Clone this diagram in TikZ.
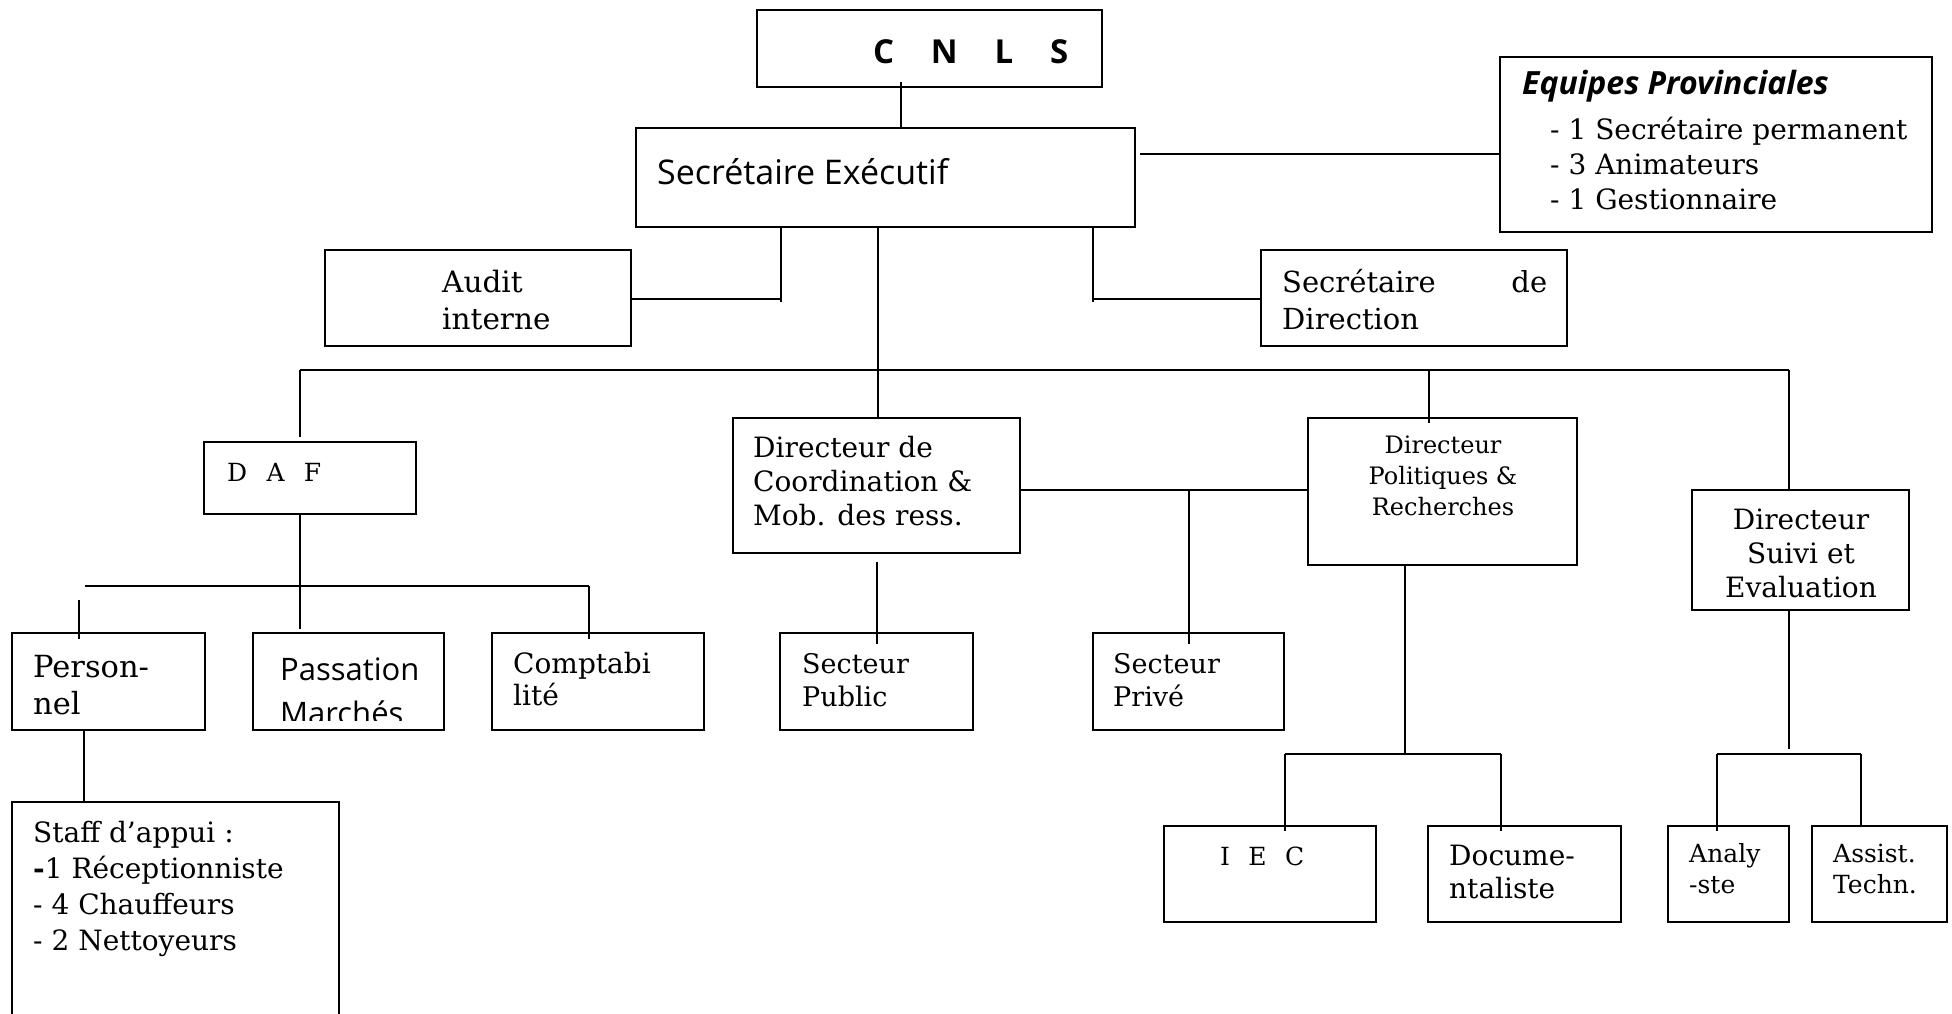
\documentclass[tikz,border=0pt]{standalone}
\usepackage{fontspec}
\setmainfont{DejaVu Serif}
\newfontfamily\comicfont{Open Sans}
\usetikzlibrary{fit}
\newcommand\mlines[1]{\begin{tabular}[t]{@{}l@{}}#1\end{tabular}}
\newcommand\mcent[1]{\begin{tabular}[t]{@{}c@{}}#1\end{tabular}}
\begin{document}
\begin{tikzpicture}[x=1pt,y=-1pt,
  box/.style={draw, line width=1.8pt, inner sep=0pt, rectangle},
  conn/.style={line width=1.8pt},
  txt/.style={inner sep=0pt, anchor=base west, font=\fontsize{28}{34}\selectfont},
  ctxt/.style={inner sep=0pt, anchor=base, font=\fontsize{28}{34}\selectfont},
  comic/.style={inner sep=0pt, anchor=base west, font=\comicfont\fontsize{31}{44}\selectfont},
]
\useasboundingbox[fill=white] (0,0) rectangle (1952,1014);

% ---------- boxes ----------
\node[box, fit={(757,10)(1102,87)}] (cnls) {};
\node[box, fit={(636,128)(1135,227)}] (se) {};
\node[box, fit={(1500,57)(1932,232)}] (equipes) {};
\node[box, fit={(325,250)(631,346)}] (audit) {};
\node[box, fit={(1261,250)(1567,346)}] (secdir) {};
\node[box, fit={(204,442)(416,514)}] (daf) {};
\node[box, fit={(733,418)(1020,553)}] (dcm) {};
\node[box, fit={(1308,418)(1577,565)}] (dpr) {};
\node[box, fit={(1692,490)(1909,610)}] (dse) {};
\node[box, fit={(12,633)(205,730)}] (pers) {};
\node[box, fit={(253,633)(444,730)}] (pass) {};
\node[box, fit={(492,633)(704,730)}] (compta) {};
\node[box, fit={(780,633)(973,730)}] (public) {};
\node[box, fit={(1093,633)(1284,730)}] (prive) {};
\node[box, fit={(1164,826)(1376,922)}] (iec) {};
\node[box, fit={(1428,826)(1621,922)}] (doc) {};
\node[box, fit={(1668,826)(1789,922)}] (analy) {};
\node[box, fit={(1812,826)(1947,922)}] (assist) {};
\node[box, fit={(12,802)(339,1040)}] (staff) {};

% ---------- texts ----------
\node[inner sep=0pt, anchor=base west, font=\comicfont\bfseries\fontsize{33}{36}\selectfont] (t-cnls) at (873,64) {\hbox to 195pt{C\hfill N\hfill L\hfill S}};
\node[comic, font=\comicfont\fontsize{34}{40}\selectfont] (t-se) at (657,185) {Secrétaire Exécutif};
\node[inner sep=0pt, anchor=base west, font=\comicfont\bfseries\itshape\fontsize{32}{36}\selectfont] (t-eq) at (1522,95) {Equipes Provinciales};
\node[txt, font=\fontsize{28}{35}\selectfont] (t-eqlist) at (1550,140) {\mlines{- 1 Secrétaire permanent\\- 3 Animateurs\\- 1 Gestionnaire}};
\node[txt, font=\fontsize{29.5}{37}\selectfont] (t-audit) at (442,292) {\mlines{Audit\\interne}};
\node[txt, font=\fontsize{29}{37}\selectfont] (t-secdir) at (1282,292) {\mlines{\hbox to 265pt{Secrétaire\hfill de}\\Direction}};
\node[txt, font=\fontsize{25}{34}\selectfont] (t-daf) at (227,481) {\hbox to 94pt{D\hfill A\hfill F}};
\node[txt] (t-dcm) at (753,457) {\mlines{Directeur de\\Coordination \&\\Mob. des ress.}};
\node[ctxt, font=\fontsize{24}{31}\selectfont] (t-dpr) at (1443,453) {\mcent{Directeur\\Politiques \&\\Recherches}};
\node[ctxt, font=\fontsize{28}{34}\selectfont] (t-dse) at (1801,529) {\mcent{Directeur\\Suivi et\\Evaluation}};
\node[txt, font=\fontsize{30.5}{37}\selectfont] (t-pers) at (33,677) {\mlines{Person-\\nel}};
\begin{scope}
  \clip (253,633) rectangle (444,720);
  \node[comic] (t-pass) at (280,680) {\mlines{Passation\\Marchés}};
\end{scope}
\node[txt, font=\fontsize{28}{32}\selectfont] (t-compta) at (513,673) {\mlines{Comptabi\\lité}};
\node[txt, font=\fontsize{27}{33}\selectfont] (t-public) at (802,673) {\mlines{Secteur\\Public}};
\node[txt, font=\fontsize{27}{33}\selectfont] (t-prive) at (1113,673) {\mlines{Secteur\\Privé}};
\node[txt, font=\fontsize{25}{33}\selectfont] (t-iec) at (1220,865) {\hbox to 84pt{I\hfill E\hfill C}};
\node[txt, font=\fontsize{28}{33}\selectfont] (t-doc) at (1449,865) {\mlines{Docume-\\ntaliste}};
\node[txt, font=\fontsize{25}{31}\selectfont] (t-analy) at (1689,862) {\mlines{Analy\\-ste}};
\node[txt, font=\fontsize{25}{31}\selectfont] (t-assist) at (1833,862) {\mlines{Assist.\\Techn.}};
\node[txt, font=\fontsize{28}{36}\selectfont] (t-staff) at (33,842) {\mlines{Staff d’appui :\\\textbf{-}1 Réceptionniste\\- 4 Chauffeurs\\- 2 Nettoyeurs}};

% ---------- junction coordinates ----------
\coordinate (barL) at (300,370);
\coordinate (barR) at (1789,370);
\coordinate (seMid) at (878,370);
\coordinate (auditJ) at (781,302);
\coordinate (secdirJ) at (1093,302);
\coordinate (cnlsJ) at (901,82);
\coordinate (seR) at (1140,154);
\coordinate (dafJ) at (300,629);
\coordinate (subL) at (85,586);
\coordinate (subR) at (589,586);
\coordinate (persJ) at (79,600);
\coordinate (dcmJ) at (877,562);
\coordinate (privJ) at (1189,490);
\coordinate (dprJ) at (1405,562);
\coordinate (idL) at (1285,754);
\coordinate (idR) at (1501,754);
\coordinate (dseJ) at (1789,749);
\coordinate (aaL) at (1717,754);
\coordinate (aaR) at (1861,754);

% ---------- connectors ----------
\draw[conn] (cnlsJ) -- (se.north -| cnlsJ);
\draw[conn] (seR) -- (equipes.west |- seR);
\draw[conn] (se.south -| auditJ) -- (auditJ);
\draw[conn] (audit.east |- 0,299) -- (781,299);
\draw[conn] (se.south -| secdirJ) -- (secdirJ);
\draw[conn] (secdir.west |- 0,299) -- (1093,299);
\draw[conn] (se.south -| seMid) -- (seMid);
\draw[conn] (barL) -- (barR);
\draw[conn] (barL) -- (300,437);
\draw[conn] (seMid) -- (dcm.north -| seMid);
\draw[conn] (1429,370) -- (1429,423);
\draw[conn] (barR) -- (dse.north -| barR);
\draw[conn] (daf.south -| dafJ) -- (dafJ);
\draw[conn] (subL) -- (subR);
\draw[conn] (subR) -- (589,639);
\draw[conn] (persJ) -- (79,639);
\draw[conn] (84,730) -- (staff.north -| 84,0);
\draw[conn] (dcm.east |- privJ) -- (dpr.west |- privJ);
\draw[conn] (privJ) -- (1189,644);
\draw[conn] (dcmJ) -- (877,644);
\draw[conn] (dpr.south -| dprJ) -- (dprJ |- idL);
\draw[conn] (idL) -- (idR);
\draw[conn] (idL) -- (1285,831);
\draw[conn] (idR) -- (1501,831);
\draw[conn] (dse.south -| dseJ) -- (dseJ);
\draw[conn] (aaL) -- (aaR);
\draw[conn] (aaL) -- (1717,831);
\draw[conn] (aaR) -- (aaR |- analy.north);
\end{tikzpicture}
\end{document}
